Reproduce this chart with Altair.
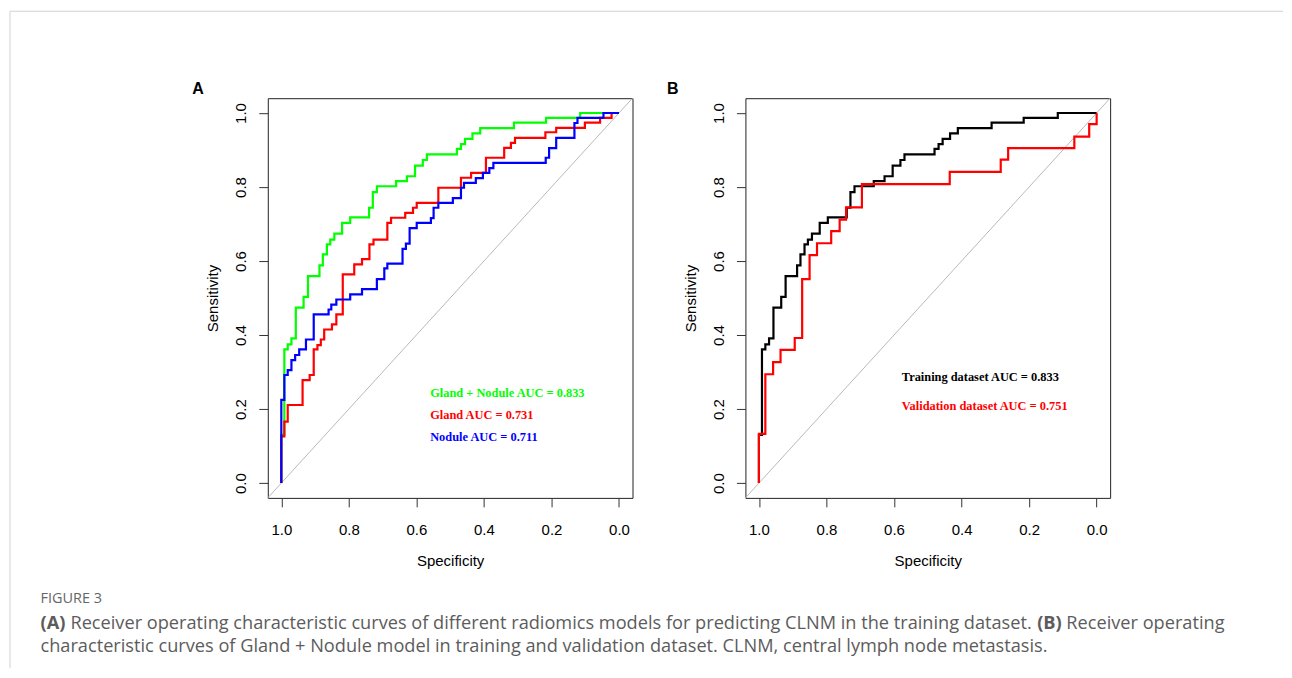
import altair as alt
import pandas as pd

# ---------------- data ----------------
tick_values = [0.0, 0.2, 0.4, 0.6, 0.8, 1.0]

# Panel A: Gland + Nodule (also the training curve in panel B)
gn_spec = [1.0, 1.0, 0.991, 0.981, 0.970, 0.957, 0.934, 0.921, 0.887, 0.877, 0.865, 0.855,
           0.843, 0.820, 0.796, 0.740, 0.729, 0.717, 0.660, 0.628, 0.604, 0.581, 0.569,
           0.480, 0.468, 0.456, 0.434, 0.411, 0.311, 0.216, 0.115, 0.0]
gn_sens = [0.0, 0.130, 0.361, 0.375, 0.391, 0.474, 0.503, 0.559, 0.588, 0.618, 0.645, 0.658,
           0.674, 0.703, 0.718, 0.744, 0.786, 0.802, 0.816, 0.829, 0.858, 0.873, 0.888,
           0.903, 0.916, 0.930, 0.945, 0.959, 0.974, 0.987, 1.0, 1.0]

# Panel A: Gland
gland_spec = [1.0, 1.0, 0.991, 0.981, 0.937, 0.916, 0.904, 0.893, 0.883, 0.873, 0.850, 0.837,
              0.818, 0.784, 0.761, 0.739, 0.727, 0.686, 0.675, 0.633, 0.610, 0.599, 0.535,
              0.468, 0.438, 0.394, 0.340, 0.320, 0.308, 0.218, 0.186, 0.101, 0.056, 0.022, 0.0]
gland_sens = [0.0, 0.126, 0.166, 0.211, 0.278, 0.292, 0.361, 0.373, 0.388, 0.415, 0.429, 0.456,
              0.564, 0.591, 0.605, 0.645, 0.658, 0.703, 0.717, 0.730, 0.744, 0.757, 0.798,
              0.825, 0.838, 0.879, 0.906, 0.919, 0.933, 0.948, 0.960, 0.974, 0.987, 1.0, 1.0]

# Panel A: Nodule
nod_spec = [1.0, 1.0, 0.991, 0.981, 0.970, 0.959, 0.947, 0.927, 0.904, 0.860, 0.852, 0.837,
            0.796, 0.761, 0.717, 0.695, 0.686, 0.641, 0.631, 0.620, 0.599, 0.557, 0.549,
            0.535, 0.492, 0.468, 0.459, 0.424, 0.403, 0.384, 0.372, 0.217, 0.207, 0.186,
            0.132, 0.123, 0.046, 0.0]
nod_sens = [0.0, 0.225, 0.292, 0.305, 0.332, 0.346, 0.361, 0.388, 0.456, 0.469, 0.482, 0.496,
            0.510, 0.524, 0.551, 0.580, 0.593, 0.633, 0.647, 0.689, 0.703, 0.716, 0.744,
            0.757, 0.770, 0.798, 0.811, 0.824, 0.838, 0.851, 0.865, 0.879, 0.905, 0.933,
            0.973, 0.987, 1.0, 1.0]

# Panel B: validation dataset
val_spec = [1.0, 1.0, 0.981, 0.958, 0.936, 0.894, 0.872, 0.850, 0.828, 0.786, 0.761, 0.742,
            0.695, 0.435, 0.284, 0.262, 0.066, 0.022, 0.0]
val_sens = [0.0, 0.133, 0.294, 0.327, 0.360, 0.392, 0.551, 0.616, 0.648, 0.681, 0.712, 0.745,
            0.808, 0.841, 0.874, 0.905, 0.936, 0.970, 1.0]

# chance diagonal across the whole box
diag_spec = [1.04, -0.04]
diag_sens = [-0.04, 1.04]

# ---------------- helpers ----------------
W, H = 365, 400
DOM = [-0.04, 1.04]
AX_FONT = "Liberation Sans"
LEG_FONT = "Liberation Serif"
CAP_FONT = "Open Sans"

x_axis = alt.Axis(values=tick_values, format=".1f", title="Specificity", grid=False,
                  domain=False, tickSize=9, tickColor="#333333", tickWidth=1,
                  labelFont=AX_FONT, labelFontSize=15, labelColor="black", labelPadding=16,
                  labelFlush=False,
                  titleFont=AX_FONT, titleFontSize=15, titleFontWeight="normal",
                  titleColor="black", titlePadding=16)
y_axis = alt.Axis(values=tick_values, format=".1f", title="Sensitivity", grid=False,
                  domain=False, tickSize=9, tickColor="#333333", tickWidth=1,
                  labelFont=AX_FONT, labelFontSize=15, labelColor="black", labelPadding=10,
                  labelAngle=270, labelAlign="center", labelBaseline="bottom",
                  labelFlush=False,
                  titleFont=AX_FONT, titleFontSize=15, titleFontWeight="normal",
                  titleColor="black", titlePadding=13)

X = alt.X("spec:Q", scale=alt.Scale(domain=DOM, reverse=True, nice=False, zero=False), axis=x_axis)
Y = alt.Y("sens:Q", scale=alt.Scale(domain=DOM, nice=False, zero=False), axis=y_axis)


def frame(spec, sens):
    return pd.DataFrame({"spec": spec, "sens": sens, "i": list(range(len(spec)))})


def curve(spec, sens, color, width=2.2):
    return alt.Chart(frame(spec, sens)).mark_line(
        color=color, strokeWidth=width, interpolate="step-after", clip=True
    ).encode(x=X, y=Y, order=alt.Order("i:Q"))


def diag():
    return alt.Chart(frame(diag_spec, diag_sens)).mark_line(
        color="#b9b9b9", strokeWidth=1
    ).encode(x=X, y=Y, order=alt.Order("i:Q"))


def label(text, x, y, size, color, font, weight="normal", align="left", baseline="middle"):
    return alt.Chart(pd.DataFrame({"t": [text]})).mark_text(
        font=font, fontSize=size, fontWeight=weight, color=color, align=align, baseline=baseline
    ).encode(text="t:N", x=alt.value(x), y=alt.value(y))


# plot origins (page pixels) used only to place annotation text
AX0, AY0 = 267.5, 97.5
BX0, BY0 = 745.5, 97.5

cap_gray = "#5c5c5c"
CAP = 18.2

figure_frame_top = alt.Chart(pd.DataFrame({"t": [0]})).mark_rule(
    color="#d2d2d2", strokeWidth=1
).encode(x=alt.value(9.5 - AX0), x2=alt.value(1283.5 - AX0), y=alt.value(10.5 - AY0))
figure_frame_left = alt.Chart(pd.DataFrame({"t": [0]})).mark_rule(
    color="#d2d2d2", strokeWidth=1
).encode(x=alt.value(9.5 - AX0), y=alt.value(10.5 - AY0), y2=alt.value(668 - AY0))

panel_a = alt.layer(
    figure_frame_top,
    figure_frame_left,
    diag(),
    curve(gn_spec, gn_sens, "#00ff00"),
    curve(gland_spec, gland_sens, "#ff0000"),
    curve(nod_spec, nod_sens, "#0000ff"),
    label("A", 192 - AX0, 88 - AY0, 16, "black", AX_FONT, "bold"),
    label("Gland + Nodule AUC = 0.833", 430 - AX0, 393 - AY0, 12.4, "#00ff00", LEG_FONT, "bold"),
    label("Gland AUC = 0.731", 430 - AX0, 415 - AY0, 12.4, "#ff0000", LEG_FONT, "bold"),
    label("Nodule AUC = 0.711", 430 - AX0, 437 - AY0, 12.4, "#0000ff", LEG_FONT, "bold"),
    label("FIGURE 3", 40 - AX0, 599 - AY0, 14.5, "#666666", CAP_FONT),
    label("(A)", 40 - AX0, 624 - AY0, CAP, cap_gray, CAP_FONT, "bold"),
    label("Receiver operating characteristic curves of different radiomics models for predicting CLNM in the training dataset.",
          70 - AX0, 624 - AY0, CAP, cap_gray, CAP_FONT),
    label("(B)", 1062 - AX0, 624 - AY0, CAP, cap_gray, CAP_FONT, "bold", align="right"),
    label("Receiver operating", 1225 - AX0, 624 - AY0, CAP, cap_gray, CAP_FONT, align="right"),
    label("characteristic curves of Gland + Nodule model in training and validation dataset. CLNM, central lymph node metastasis.",
          40 - AX0, 647 - AY0, CAP, cap_gray, CAP_FONT),
).properties(width=W, height=H)

panel_b = alt.layer(
    diag(),
    curve(gn_spec, gn_sens, "#000000"),
    curve(val_spec, val_sens, "#ff0000"),
    label("B", 667 - BX0, 88 - BY0, 16, "black", AX_FONT, "bold"),
    label("Training dataset AUC = 0.833", 902 - BX0, 377 - BY0, 12.4, "#000000", LEG_FONT, "bold"),
    label("Validation dataset AUC = 0.751", 902 - BX0, 406 - BY0, 12.4, "#ff0000", LEG_FONT, "bold"),
).properties(width=W, height=H)

chart = alt.hconcat(panel_a, panel_b, spacing=113, bounds="flush").properties(
    padding={"left": 1, "top": 2, "right": 0, "bottom": 0},
    background="white",
).configure_view(stroke="#222222", strokeWidth=1)

chart.save("out.html", embed_options={"renderer": "svg", "actions": False})
